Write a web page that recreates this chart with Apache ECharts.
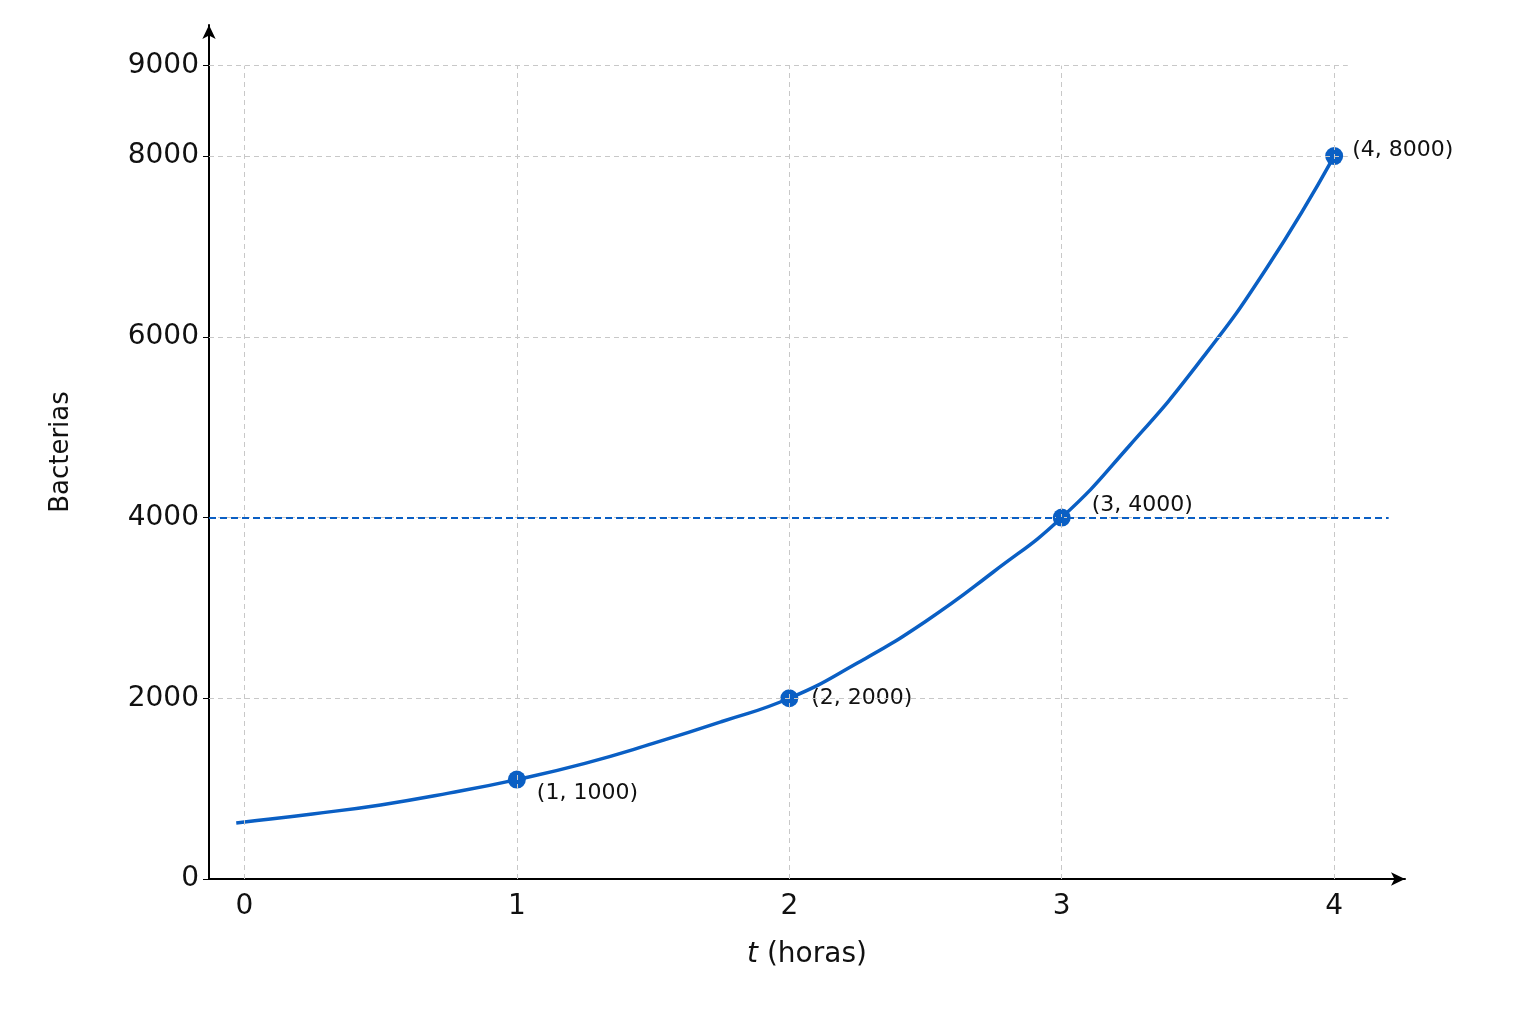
<!DOCTYPE html><html><head><meta charset="utf-8">
<script src="https://cdn.jsdelivr.net/npm/echarts@6/dist/echarts.min.js"></script>
<style>html,body{margin:0;background:#fff}#c{width:1536px;height:1024px}</style></head><body><div id="c"></div>
<script>
const curveT = [-0.03,0,0.25,0.5,0.75,1,1.25,1.5,1.75,2,2.25,2.5,2.75,3,3.25,3.5,3.75,4];
const curveV = [620,630,720,820,950,1100,1280,1500,1740,2000,2390,2850,3400,4000,4800,5700,6750,8000];
const pointsT = [1,2,3,4];
const pointsV = [1100,2000,4000,8000];
const pointLabels = ['(1, 1000)','(2, 2000)','(3, 4000)','(4, 8000)'];
const xTicks = [0,1,2,3,4];
const yTicks = [0,2000,4000,6000,8000,9000];
const refLevel = 4000;

const grid = {left:209,right:131,top:25,bottom:145};
const gray = {color:'#c8c8c8',type:[5,4],width:1};
const gridLines = [
  ...yTicks.filter(v=>v>0).map(v=>[{coord:[-0.13,v]},{coord:[4.05,v]}]),
  ...xTicks.map(v=>[{coord:[v,0]},{coord:[v,9000]}])
];
const offsets = [[6,14],[8,0],[16,-12],[4,-6]];
const chart = echarts.init(document.getElementById('c'));
chart.setOption({
  animation:false,
  grid,
  xAxis:{type:'value',min:-0.13,max:4.26,
    axisLine:{onZero:false,lineStyle:{color:'#000',width:2},symbol:['none','arrow'],symbolSize:[10,14]},
    axisTick:{show:false},splitLine:{show:false},
    axisLabel:{customValues:xTicks,fontSize:28,color:'#111',margin:14,fontFamily:'DejaVu Sans'},
    name:'{i|t} (horas)',nameLocation:'middle',nameGap:62,
    nameTextStyle:{fontSize:28,color:'#111',fontFamily:'DejaVu Sans',rich:{i:{fontStyle:'italic',fontSize:28,fontFamily:'DejaVu Sans'}}}},
  yAxis:{type:'value',min:0,max:9450,
    axisLine:{show:true,onZero:false,lineStyle:{color:'#000',width:2},symbol:['none','arrow'],symbolSize:[10,14]},
    axisTick:{show:true,customValues:yTicks,length:6,lineStyle:{color:'#000'}},splitLine:{show:false},
    axisLabel:{customValues:yTicks,formatter:v=>String(v),fontSize:28,color:'#111',margin:10,fontFamily:'DejaVu Sans'},
    name:'Bacterias',nameLocation:'middle',nameGap:135,nameRotate:90,
    nameTextStyle:{fontSize:26,color:'#111',fontFamily:'DejaVu Sans'}},
  series:[
    {type:'line',data:[],markLine:{silent:true,symbol:'none',label:{show:false},lineStyle:gray,data:gridLines}},
    {type:'line',smooth:true,showSymbol:false,data:curveT.map((t,i)=>[t,curveV[i]]),
      lineStyle:{color:'#0a5fc4',width:3.5},
      markLine:{silent:true,symbol:'none',label:{show:false},lineStyle:{color:'#0a5fc4',type:[7,4],width:2},
        data:[[{coord:[-0.13,refLevel]},{coord:[4.2,refLevel]}]]}},
    {type:'scatter',symbolSize:18,itemStyle:{color:'#0a5fc4',opacity:1},
      data:pointsT.map((t,i)=>({value:[t,pointsV[i]],label:{offset:offsets[i]}})),
      label:{show:true,position:'right',fontSize:22,color:'#111',fontFamily:'DejaVu Sans',
        formatter:p=>pointLabels[p.dataIndex]}}
  ]
});
</script></body></html>
